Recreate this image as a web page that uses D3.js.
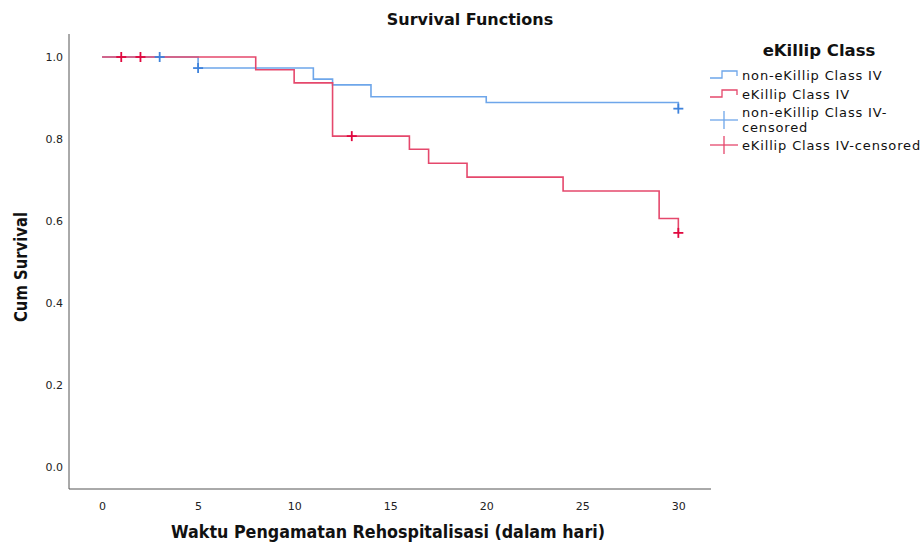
<!DOCTYPE html>
<html><head><meta charset="utf-8">
<script src="https://cdn.jsdelivr.net/npm/d3@7/dist/d3.min.js"></script>
<style>body{margin:0;background:#fff;} text{font-family:"DejaVu Sans",sans-serif;}</style>
</head><body><svg id="c" width="923" height="543"></svg>
<script>
const seriesNames = ["non-eKillip Class IV", "eKillip Class IV"];
const blueTimes = [0, 5, 11, 12, 14, 20, 30];
const blueSurv  = [1.0, 0.973, 0.946, 0.932, 0.903, 0.889, 0.874];
const redTimes  = [0, 8, 10, 12, 16, 17, 19, 24, 29, 30];
const redSurv   = [1.0, 0.969, 0.937, 0.807, 0.775, 0.741, 0.707, 0.673, 0.606, 0.571];
const blueCensT = [3, 5, 30];
const blueCensS = [1.0, 0.973, 0.874];
const redCensT  = [1, 2, 13, 30];
const redCensS  = [1.0, 1.0, 0.807, 0.571];
const xTicks = [0, 5, 10, 15, 20, 25, 30];
const yTicks = [0.0, 0.2, 0.4, 0.6, 0.8, 1.0];
const legendLabels = ["non-eKillip Class IV", "eKillip Class IV", ["non-eKillip Class IV-", "censored"], "eKillip Class IV-censored"];

const svg = d3.select("#c");
const x = d3.scaleLinear().domain([-1.72, 31.7]).range([69, 711]);
const y = d3.scaleLinear().domain([-0.0537, 1.0561]).range([489, 34]);

const blue = "#6ea6ea", blueC = "#3f83dc";
const red = "#e5486c", redC = "#e0083f";

// axes
svg.append("line").attr("x1", 69).attr("x2", 69).attr("y1", y(1.0561)).attr("y2", y(-0.0537)).attr("stroke", "#555").attr("stroke-width", 1);
svg.append("line").attr("x1", 69).attr("x2", 711).attr("y1", 489).attr("y2", 489).attr("stroke", "#555").attr("stroke-width", 1);

const yAx = svg.append("g").attr("transform", "translate(69,0)")
  .call(d3.axisLeft(y).tickValues(yTicks).tickFormat(d3.format(".1f")).tickSize(0).tickPadding(6));
yAx.select(".domain").remove();
yAx.selectAll("text").attr("font-size", 11).attr("fill", "#222").style("font-family", "DejaVu Sans");
const xAx = svg.append("g").attr("transform", "translate(0,489)")
  .call(d3.axisBottom(x).tickValues(xTicks).tickFormat(d3.format("d")).tickSize(0).tickPadding(13));
xAx.select(".domain").remove();
xAx.selectAll("text").attr("font-size", 11).attr("fill", "#222").style("font-family", "DejaVu Sans");

function stepPath(ts, ss) {
  const pts = ts.map((t, i) => [t, ss[i]]);
  return d3.line().x(d => x(d[0])).y(d => y(d[1])).curve(d3.curveStepAfter)(pts);
}
svg.append("path").attr("d", stepPath(blueTimes, blueSurv)).attr("fill", "none").attr("stroke", blue).attr("stroke-width", 1.6);
svg.append("path").attr("d", stepPath(redTimes, redSurv)).attr("fill", "none").attr("stroke", red).attr("stroke-width", 1.6);

function cens(ts, ss, col) {
  ts.forEach((t, i) => {
    const cx = x(t), cy = y(ss[i]);
    svg.append("line").attr("x1", cx - 5).attr("x2", cx + 5).attr("y1", cy).attr("y2", cy).attr("stroke", col).attr("stroke-width", 1.8);
    svg.append("line").attr("x1", cx).attr("x2", cx).attr("y1", cy - 5).attr("y2", cy + 5).attr("stroke", col).attr("stroke-width", 1.8);
  });
}
cens(blueCensT, blueCensS, blueC);
cens(redCensT, redCensS, redC);

// titles
svg.append("text").attr("x", 470).attr("y", 25).attr("text-anchor", "middle").attr("font-size", 16).attr("font-weight", "bold").attr("fill", "#111").text("Survival Functions");
svg.append("text").attr("x", 388).attr("y", 538).attr("text-anchor", "middle").attr("font-size", 17).attr("font-weight", "bold").attr("fill", "#111")
  .attr("textLength", 434).attr("lengthAdjust", "spacingAndGlyphs").text("Waktu Pengamatan Rehospitalisasi (dalam hari)");
svg.append("text").attr("transform", "translate(27,267) rotate(-90)").attr("text-anchor", "middle").attr("font-size", 17).attr("font-weight", "bold").attr("fill", "#111")
  .attr("textLength", 110).attr("lengthAdjust", "spacingAndGlyphs").text("Cum Survival");

// legend
svg.append("text").attr("x", 819).attr("y", 56).attr("text-anchor", "middle").attr("font-size", 16.5).attr("font-weight", "bold").attr("fill", "#111").text("eKillip Class");
const lg = svg.append("g");
const rowY = [75, 94, 120, 145];
const cols = [blue, red, blue, red];
[0, 1].forEach(i => {
  const yy = rowY[i];
  lg.append("path").attr("d", `M710,${yy+3} H722 V${yy-4} H737 V${yy+1}`).attr("fill", "none").attr("stroke", cols[i]).attr("stroke-width", 1.3);
});
[2, 3].forEach(i => {
  const yy = rowY[i];
  const c = i === 2 ? blue : red;
  lg.append("line").attr("x1", 710).attr("x2", 738).attr("y1", yy).attr("y2", yy).attr("stroke", c).attr("stroke-width", 1.3);
  lg.append("line").attr("x1", 724).attr("x2", 724).attr("y1", yy - 9).attr("y2", yy + 9).attr("stroke", c).attr("stroke-width", 1.3);
});
legendLabels.forEach((lab, i) => {
  if (Array.isArray(lab)) {
    lab.forEach((s, k) => lg.append("text").attr("x", 742).attr("y", rowY[i] - 3.5 + k * 15)
      .attr("font-size", 13).attr("letter-spacing", 0.85).attr("fill", "#111").text(s));
  } else {
    lg.append("text").attr("x", 742).attr("y", rowY[i] + 5)
      .attr("font-size", 13).attr("letter-spacing", 0.85).attr("fill", "#111").text(lab);
  }
});
</script></body></html>
